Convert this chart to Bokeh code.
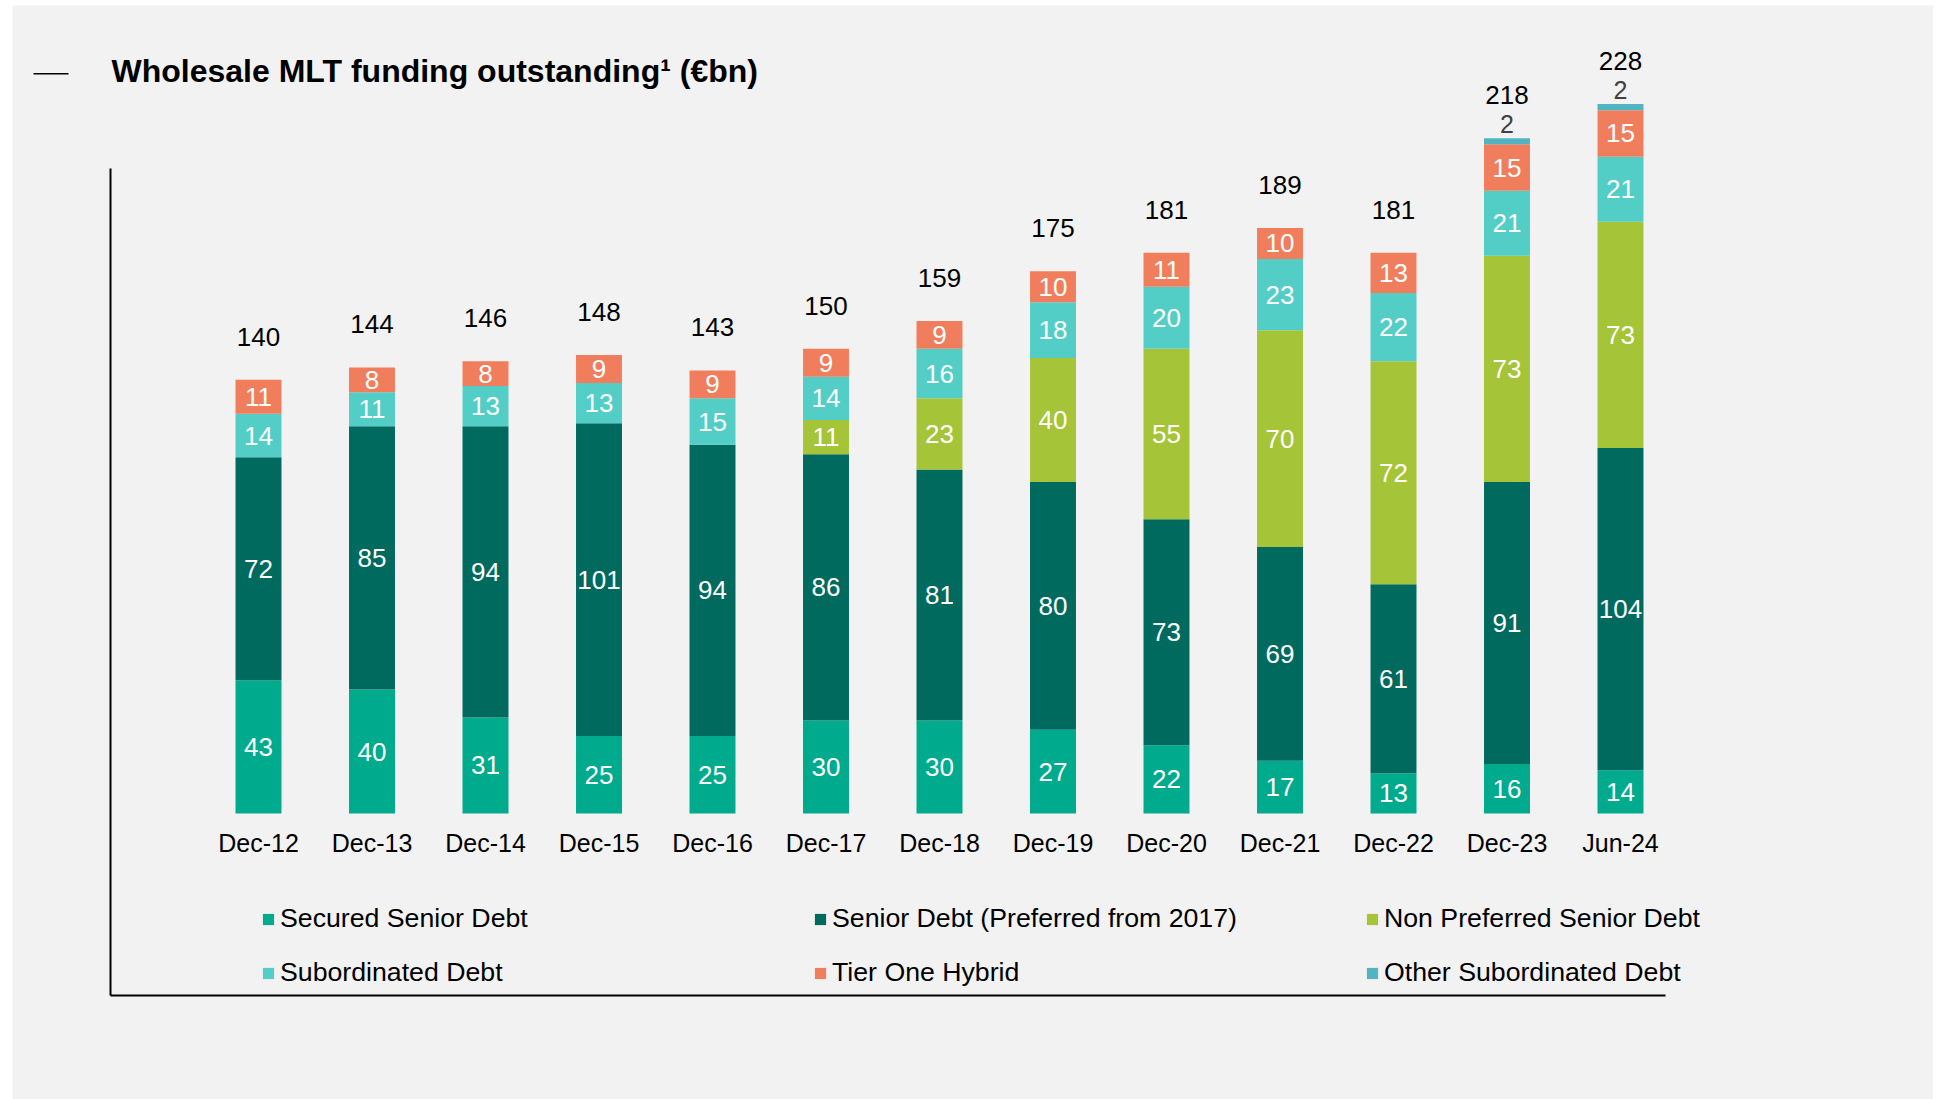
import numpy as np
from bokeh.plotting import figure
from bokeh.models import (ColumnDataSource, Range1d, FixedTicker, LinearAxis,
                          Legend, LegendItem, Label, BoxAnnotation)
from bokeh.core.properties import value
from bokeh.embed import file_html
from bokeh.resources import INLINE

# ---------------- data ----------------
categories = ["Dec-12", "Dec-13", "Dec-14", "Dec-15", "Dec-16", "Dec-17", "Dec-18",
              "Dec-19", "Dec-20", "Dec-21", "Dec-22", "Dec-23", "Jun-24"]
secured_senior = [43, 40, 31, 25, 25, 30, 30, 27, 22, 17, 13, 16, 14]
senior_preferred = [72, 85, 94, 101, 94, 86, 81, 80, 73, 69, 61, 91, 104]
non_preferred = [0, 0, 0, 0, 0, 11, 23, 40, 55, 70, 72, 73, 73]
subordinated = [14, 11, 13, 13, 15, 14, 16, 18, 20, 23, 22, 21, 21]
tier_one = [11, 8, 8, 9, 9, 9, 9, 10, 11, 10, 13, 15, 15]
other_sub = [0, 0, 0, 0, 0, 0, 0, 0, 0, 0, 0, 2, 2]
totals = [140, 144, 146, 148, 143, 150, 159, 175, 181, 189, 181, 218, 228]

series_names = ["Secured Senior Debt", "Senior Debt (Preferred from 2017)",
                "Non Preferred Senior Debt", "Subordinated Debt",
                "Tier One Hybrid", "Other Subordinated Debt"]
series_keys = ["secured", "senior", "nonpref", "sub", "tier1", "other"]
colors = ["#00aa8c", "#006a5f", "#a6c437", "#52cec6", "#f07e5c", "#52b4c3"]

title_text = "Wholesale MLT funding outstanding\u00b9 (\u20acbn)"

# ---------------- layout (page pixels) ----------------
OX, OY = 12, 5            # figure origin on the page
W, H = 1921, 1094
BASE = 813                # page y of value 0
PXU = 3.098               # px per unit
CAT = 113.5               # px per category
FIRST = 258               # page x of first bar centre

x0 = -(FIRST - OX) / CAT
x1 = x0 + W / CAT
y1 = (BASE - OY) / PXU
y0 = -(OY + H - BASE) / PXU


def fx(px):
    return x0 + (px - OX) / CAT


def fy(py):
    return (BASE - py) / PXU


BG = "#f2f2f2"
SANS = "Liberation Sans"

p = figure(width=W, height=H, x_range=Range1d(x0, x1), y_range=Range1d(y0, y1),
           output_backend="svg", toolbar_location=None,
           x_axis_type=None, y_axis_type=None,
           min_border_left=0, min_border_right=0, min_border_top=0, min_border_bottom=0)
p.margin = (OY, 7, 0, OX)
p.background_fill_color = BG
p.border_fill_color = BG
p.outline_line_color = None


def line_axis(**kw):
    return LinearAxis(ticker=FixedTicker(ticks=[]), axis_line_width=2, axis_line_color="black",
                      major_label_text_font_size="0px", major_tick_line_color=None,
                      minor_tick_line_color=None, major_tick_out=0, major_tick_in=0, **kw)


# decorative frame lines
p.add_layout(line_axis(fixed_location=fx(110), bounds=(fy(995), fy(168))), "left")
p.add_layout(line_axis(fixed_location=fy(995), bounds=(fx(110), fx(1665))), "below")

# category axis at the baseline
xs = list(range(len(categories)))
xax = LinearAxis(ticker=FixedTicker(ticks=xs),
                 major_label_overrides={i: c for i, c in zip(xs, categories)},
                 fixed_location=0, axis_line_color=None, major_tick_line_color=None,
                 minor_tick_line_color=None, major_tick_out=0, major_tick_in=0,
                 major_label_standoff=15,
                 major_label_text_font=SANS, major_label_text_font_size="25px",
                 major_label_text_color="black")
p.add_layout(xax, "below")

# bars
values = [secured_senior, senior_preferred, non_preferred, subordinated, tier_one, other_sub]
data = {"x": xs}
for k, v in zip(series_keys, values):
    data[k] = v
source = ColumnDataSource(data)
rends = p.vbar_stack(series_keys, x="x", width=0.405, fill_color=colors,
                     line_color=None, source=source)

# segment labels
arr = np.array(values, dtype=float)
bottoms = np.vstack([np.zeros(arr.shape[1]), np.cumsum(arr, axis=0)[:-1]])
lx, ly, lt = [], [], []
for s in range(5):
    for i in xs:
        if arr[s, i] > 0:
            lx.append(i)
            ly.append(bottoms[s, i] + arr[s, i] / 2)
            lt.append(str(int(arr[s, i])))
p.text(x=lx, y=ly, text=lt, text_color="white", text_font=value(SANS),
       text_font_size="26px", text_align="center", text_baseline="middle")

tops = arr.sum(axis=0)
ox = [i for i in xs if other_sub[i] > 0]
p.text(x=ox, y=[tops[i] for i in ox], text=[str(other_sub[i]) for i in ox],
       text_color="#404040", text_font=value(SANS), text_font_size="25px",
       text_align="center", text_baseline="middle", y_offset=-14)

p.text(x=xs, y=list(tops), text=[str(t) for t in totals], text_color="black",
       text_font=value(SANS), text_font_size="26px", text_align="center",
       text_baseline="middle", y_offset=-43)

# legends: three columns of two rows
cols = [(0, 3), (1, 4), (2, 5)]
col_x = [261, 813, 1365]
for (a, b), cx in zip(cols, col_x):
    leg = Legend(items=[LegendItem(label=series_names[a], renderers=[rends[a]]),
                        LegendItem(label=series_names[b], renderers=[rends[b]])],
                 location=(cx - OX, 111), orientation="vertical",
                 glyph_width=14, glyph_height=14, label_height=30,
                 label_text_font=SANS, label_text_font_size="26.7px",
                 label_text_color="black", label_standoff=5, spacing=23,
                 padding=0, margin=0, border_line_color=None,
                 background_fill_alpha=0)
    p.add_layout(leg, "center")

# title and dash
p.add_layout(Label(x=fx(111), y=fy(70.5), text=title_text,
                   text_font=SANS, text_font_size="32px", text_font_style="bold",
                   text_color="black", text_baseline="middle", text_align="left"))
p.add_layout(BoxAnnotation(left=fx(33), right=fx(68), bottom=fy(74), top=fy(72.5),
                           fill_color="black", fill_alpha=1, line_color=None))

open("out.html", "w").write(file_html(p, INLINE))
